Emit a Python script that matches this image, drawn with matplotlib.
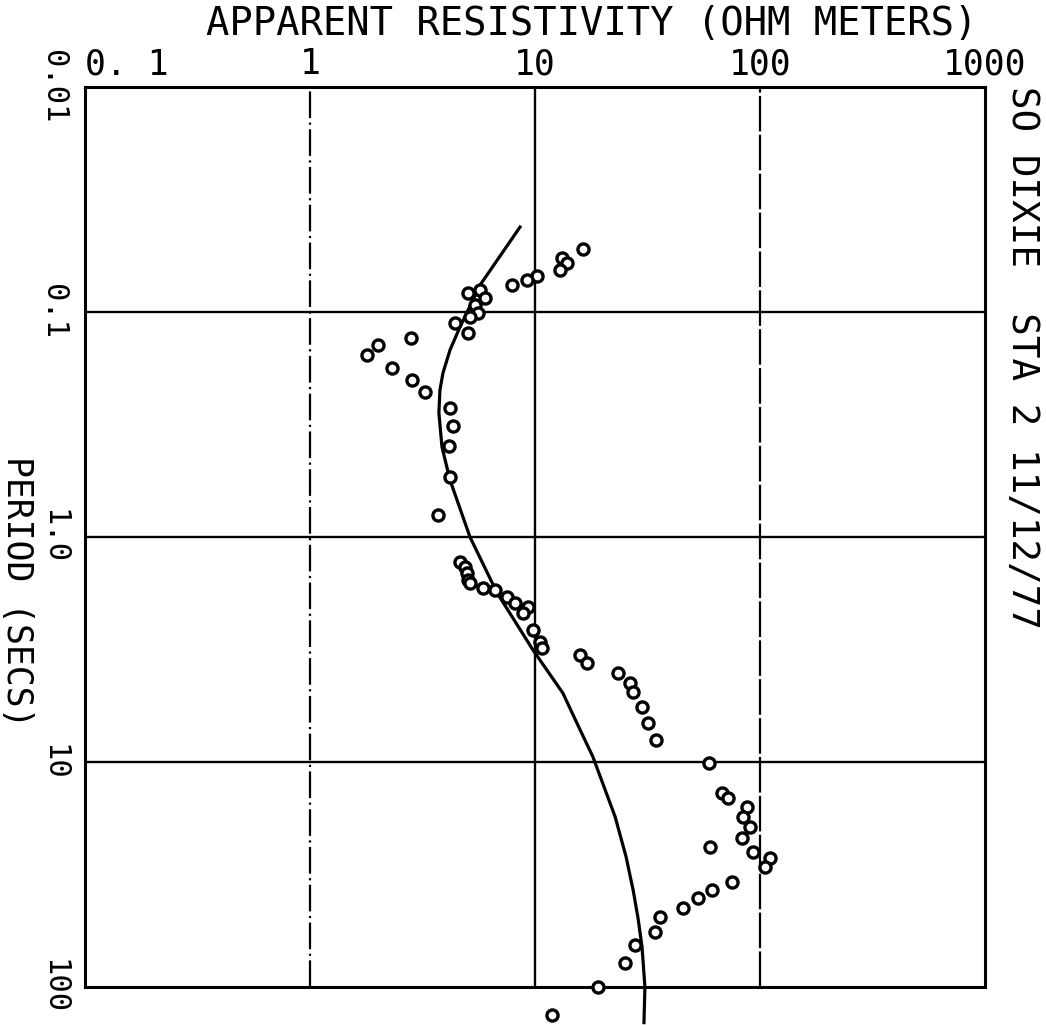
#!/usr/bin/env python3
"""Apparent resistivity sounding curve, SO DIXIE STA 2 (plotter style)"""
import matplotlib
matplotlib.use('Agg')
import matplotlib.pyplot as plt

FONT = 'DejaVu Sans Mono'

# observed data points (apparent resistivity, period)
rho_obs = [16.3, 13.2, 13.9, 12.9, 10.2, 9.21, 7.91, 5.70, 5.04, 6.0, 5.41, 5.58,
           5.14, 4.41, 5.04, 2.81, 2.0, 1.8, 2.31, 2.84, 3.24, 4.19, 4.32, 4.15,
           4.19, 3.71,
           4.64, 4.89, 4.99, 5.04, 5.14, 5.87, 6.64, 7.51, 8.15, 9.31, 8.85, 9.80,
           10.5, 10.7, 15.8, 17.0, 23.4, 26.4, 27.3, 29.9, 31.8, 34.5,
           59.3, 67.8, 72.1, 87.5, 84.0, 90.3, 83.2, 93.1, 111, 105, 60.0, 75.1,
           61.2, 53.0, 45.5, 35.9, 34.1, 27.8, 25.1, 19.1, 11.9]
per_obs = [0.0525, 0.0575, 0.0606, 0.0651, 0.0692, 0.0721, 0.0759, 0.0798, 0.0823,
           0.0866, 0.0931, 0.101, 0.105, 0.112, 0.124, 0.130, 0.14, 0.155, 0.177,
           0.200, 0.227, 0.267, 0.321, 0.394, 0.541, 0.798,
           1.29, 1.36, 1.45, 1.55, 1.60, 1.69, 1.72, 1.85, 1.97, 2.05, 2.18, 2.59,
           2.93, 3.11, 3.34, 3.63, 4.02, 4.46, 4.89, 5.70, 6.71, 7.98,
           10.1, 13.7, 14.5, 15.8, 17.6, 19.5, 21.8, 25.1, 26.7, 29.3, 23.9, 34.1,
           37.1, 40.2, 44.6, 48.9, 57.0, 65.1, 78.2, 100, 133]

# model curve
rho_fit = [8.58, 5.70, 4.64, 4.19, 3.90, 3.78, 3.74, 3.86, 4.19, 5.14, 6.78, 9.80,
           13.3, 15.5, 18.1, 20.5, 22.7, 25.4, 27.3, 28.7, 29.9, 30.8, 30.5]
per_fit = [0.0419, 0.0759, 0.1166, 0.1476, 0.1866, 0.222, 0.281, 0.398, 0.558, 1.0,
           1.77, 3.18, 4.94, 6.85, 9.5, 13.3, 17.5, 26.4, 37.1, 49.4, 66.4, 100, 144]

xticks = [0.1, 1, 10, 100, 1000]
xlabels = ['0. 1', '1', '10', '100', '1000']
yticks = [0.01, 0.1, 1, 10, 100]
ylabels = ['0.01', '0.1', '1.0', '10', '100']

fig = plt.figure(figsize=(10.46, 10.25), dpi=100)
ax = fig.add_axes([85/1046, 38/1025, 900/1046, 900/1025])
ax.set_xscale('log')
ax.set_yscale('log')
ax.set_xlim(0.1, 1000)
ax.set_ylim(100, 0.01)

# grid lines
for yv in yticks[1:-1]:
    ax.axhline(yv, color='black', lw=1.7)
ax.axvline(1, color='black', lw=1.6, ls=(0, (12, 2, 1, 2)))
ax.axvline(10, color='black', lw=1.7)
ax.axvline(100, color='black', lw=1.6, ls=(0, (16, 1.5)))

ax.plot(rho_fit, per_fit, color='black', lw=2.3, clip_on=False, zorder=3)
ax.plot(rho_obs, per_obs, ls='none', marker='o', ms=8, mfc='white', mec='black',
        mew=2.4, clip_on=False, zorder=4)

for s in ax.spines.values():
    s.set_linewidth(2.2)

ax.xaxis.tick_top()
ax.set_xticks(xticks)
ax.set_xticklabels(xlabels, fontfamily=FONT, fontsize=25)
ax.set_yticks(yticks)
ax.set_yticklabels(ylabels, fontfamily=FONT, fontsize=22, rotation=-90, va='center')
ax.minorticks_off()
ax.tick_params(axis='x', length=0, pad=4)
ax.tick_params(axis='y', length=0, pad=12)
ax.get_xticklabels()[0].set_ha('left')

fig.text(592/1046, 1 - 24/1025, 'APPARENT RESISTIVITY (OHM METERS)', fontfamily=FONT,
         fontsize=28, ha='center', va='center')
fig.text(17/1046, 1 - 592/1025, 'PERIOD (SECS)', fontfamily=FONT, fontsize=25,
         rotation=-90, ha='center', va='center')
fig.text(1022/1046, 1 - 358/1025, 'SO DIXIE  STA 2 11/12/77', fontfamily=FONT,
         fontsize=27, rotation=-90, ha='center', va='center')

fig.savefig('out.png', dpi=100)
print('Wrote out.png')
